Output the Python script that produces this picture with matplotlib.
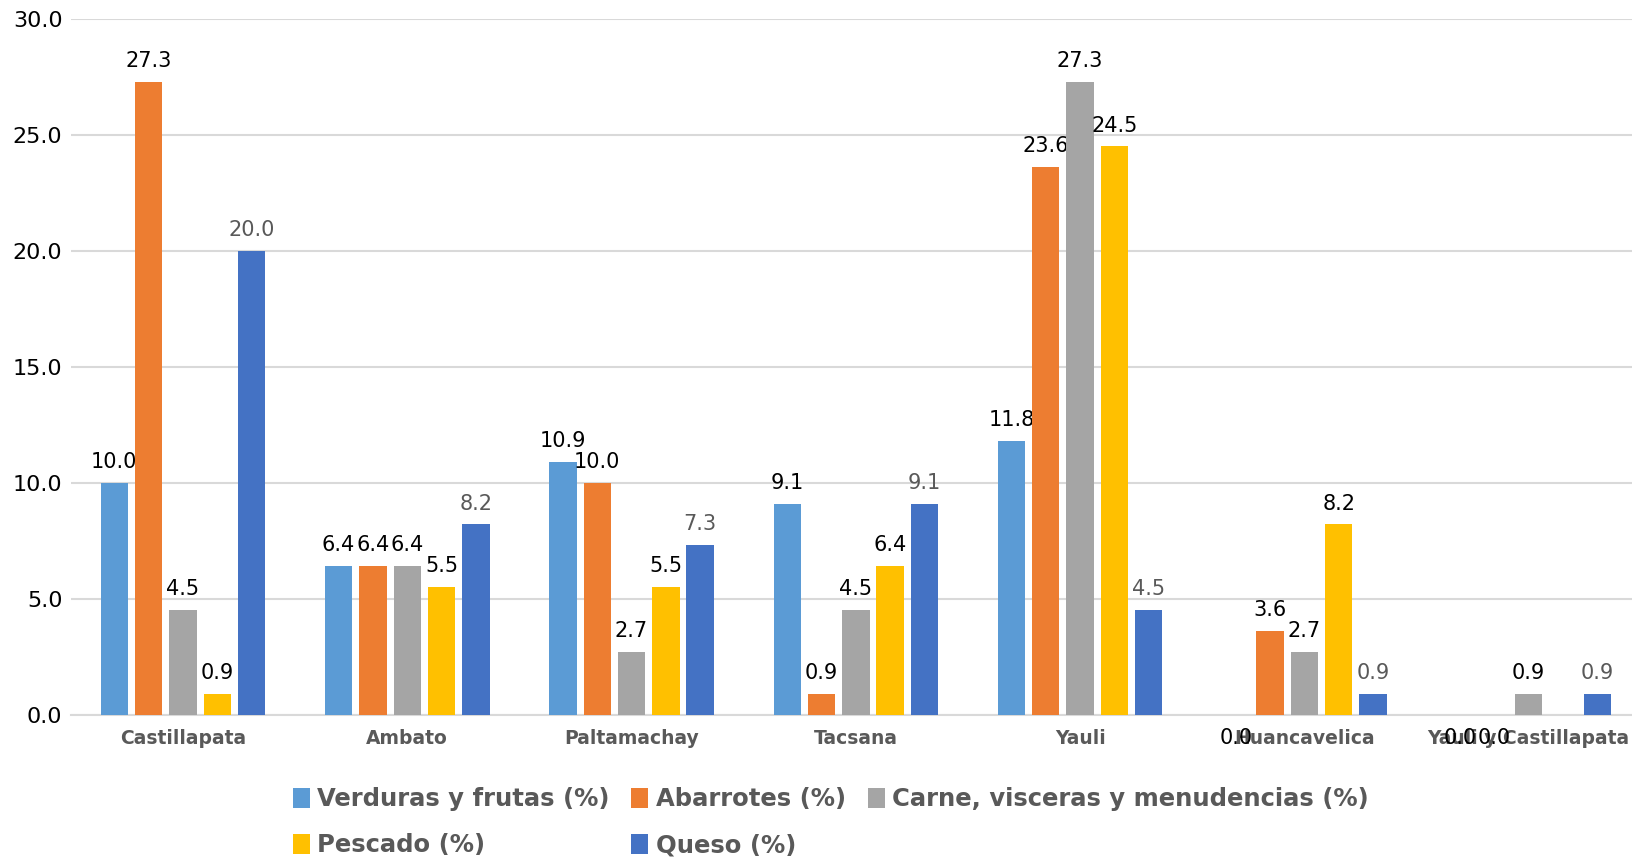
import matplotlib.pyplot as plt
import numpy as np

# categories and series
localidades = ["Castillapata", "Ambato", "Paltamachay", "Tacsana", "Yauli",
               "Huancavelica", "Yauli y Castillapata"]
verduras = [10.0, 6.4, 10.9, 9.1, 11.8, 0.0, 0.0]
abarrotes = [27.3, 6.4, 10.0, 0.9, 23.6, 3.6, 0.0]
carne = [4.5, 6.4, 2.7, 4.5, 27.3, 2.7, 0.9]
pescado = [0.9, 5.5, 5.5, 6.4, 24.5, 8.2, np.nan]
queso = [20.0, 8.2, 7.3, 9.1, 4.5, 0.9, 0.9]

series = [
    ("Verduras y frutas (%)", verduras, "#5B9BD5", "black"),
    ("Abarrotes (%)", abarrotes, "#ED7D31", "black"),
    ("Carne, visceras y menudencias (%)", carne, "#A5A5A5", "black"),
    ("Pescado (%)", pescado, "#FFC000", "black"),
    ("Queso (%)", queso, "#4472C4", "#595959"),
]

plt.rcParams["font.family"] = ["DejaVu Sans"]

fig = plt.figure(figsize=(16.32, 8.61), dpi=100)
ax = fig.add_axes([0.0434, 0.170, 0.962, 0.808])

x = np.arange(len(localidades))
step = 0.153
width = 0.122

handles = []
for i, (name, vals, color, label_color) in enumerate(series):
    pos = x + (i - 2) * step
    vals = np.array(vals, dtype=float)
    bars = ax.bar(pos, np.nan_to_num(vals), width, color=color, label=name, zorder=3)
    handles.append(bars)
    for p, v in zip(pos, vals):
        if np.isnan(v):
            continue
        # zero values get their label under the axis, like the original
        y = v + 0.9 if v > 0 else -1.0
        ax.text(p, y, f"{v:.1f}", ha="center", va="center", fontsize=15,
                color=label_color, clip_on=False)

ax.set_xlim(-0.5, len(localidades) - 0.5)
ax.set_ylim(0, 30)
ax.set_yticks(np.arange(0, 30.1, 5))
ax.set_yticklabels([f"{t:.1f}" for t in np.arange(0, 30.1, 5)], fontsize=16)
ax.set_xticks(x)
ax.set_xticklabels(localidades, fontsize=13.5, fontweight="bold", color="#595959")
ax.tick_params(axis="both", length=0)
ax.tick_params(axis="x", pad=10)
ax.tick_params(axis="y", pad=6)

ax.grid(axis="y", color="#D9D9D9", linewidth=1.5, zorder=0)
for side in ["top", "right", "left"]:
    ax.spines[side].set_visible(False)
ax.spines["bottom"].set_color("#D9D9D9")
ax.spines["bottom"].set_linewidth(1.5)

# legend order so the 3-column layout fills rows like the original
order = [0, 3, 1, 4, 2]
leg = ax.legend([handles[k] for k in order], [series[k][0] for k in order],
                ncol=3, loc="upper center", bbox_to_anchor=(0.484, -0.073),
                frameon=False, fontsize=17.5, handlelength=0.7, handleheight=0.9,
                handletextpad=0.3, columnspacing=0.9, labelspacing=0.9)
for t in leg.get_texts():
    t.set_color("#595959")
    t.set_fontweight("bold")

fig.savefig("out.png", dpi=100)
